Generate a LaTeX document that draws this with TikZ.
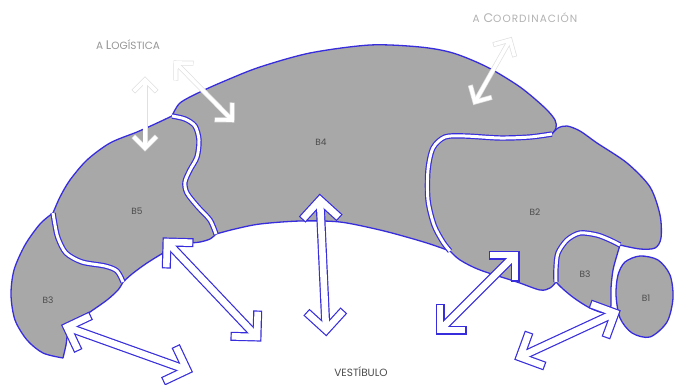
\documentclass[tikz,border=0pt]{standalone}
\usepackage{fontspec}
\setmainfont{Poppins}
\usetikzlibrary{calc}
\definecolor{regfill}{RGB}{168,168,168}
\definecolor{regline}{RGB}{55,45,220}
\definecolor{txt}{RGB}{75,75,75}
\definecolor{lighttxt}{RGB}{150,150,150}
\newcommand{\twohead}[5]{%
  \draw[#1,line cap=butt] (#3) -- (#4);
  \draw[#1,line cap=rect,line join=miter] ($(#3)!#5!45:(#4)$) -- (#3) -- ($(#3)!#5!-45:(#4)$);
  \draw[#1,line cap=rect,line join=miter] ($(#4)!#5!45:(#3)$) -- (#4) -- ($(#4)!#5!-45:(#3)$);
  \draw[#2,line cap=butt] (#3) -- (#4);
  \draw[#2,line cap=rect,line join=miter] ($(#3)!#5!45:(#4)$) -- (#3) -- ($(#3)!#5!-45:(#4)$);
  \draw[#2,line cap=rect,line join=miter] ($(#4)!#5!45:(#3)$) -- (#4) -- ($(#4)!#5!-45:(#3)$);
}
\begin{document}
\begin{tikzpicture}[x=1pt,y=-1pt,
  region/.style={fill=regfill, draw=regline, line width=1.3pt, line join=round},
  gap/.style={draw=regline, line width=1.2pt, double=white, double distance=3pt},
  lbl/.style={font=\fontsize{9}{10}\selectfont, text=txt, inner sep=0pt},
  lout/.style={draw=black!12, line width=5pt},
  lin/.style={draw=white, line width=3.6pt},
  bout/.style={draw=regline, line width=9pt},
  bin/.style={draw=white, line width=6.6pt}]
\useasboundingbox (0,0) rectangle (674,385);
\fill[white] (0,0) rectangle (674,385);

% B4
\path[region] plot[smooth] coordinates {(172,116) (180,103) (200,92) (227,80) (260,67) (310,53) (370,45) (420,47) (453,53) (487,67) (520,87) (545,108) (555,120) (556,128) (552,134)}
 -- plot[smooth] coordinates {(552,134) (530,137) (500,138) (465,136) (445,137) (433,148) (428,170) (428,200) (434,225) (443,242) (450,251)}
 -- plot[smooth] coordinates {(450,251) (430,244) (410,238) (380,230) (340,222) (300,221) (260,224) (235,229) (216,234)}
 -- plot[smooth] coordinates {(216,234) (210,220) (198,207) (187,193) (185,182) (190,170) (197,157) (199,140) (195,126) (185,119) (172,116)}
 -- cycle;
% B5
\path[region] plot[smooth] coordinates {(172,116) (155,124) (137,132) (110,143) (87,160) (70,180) (60,197) (53,213)}
 -- plot[smooth] coordinates {(53,213) (55,225) (58,238) (66,253) (82,262) (105,266) (117,271) (123,282)}
 -- plot[smooth] coordinates {(123,282) (132,274) (147,263) (167,251) (185,244) (200,242) (210,239) (216,234)}
 -- plot[smooth] coordinates {(216,234) (210,220) (198,207) (187,193) (185,182) (190,170) (197,157) (199,140) (195,126) (185,119) (172,116)}
 -- cycle;
% B3 left
\path[region] plot[smooth] coordinates {(53,213) (40,224) (25,245) (14,270) (11,295) (15,320) (27,340) (43,353) (63,358)}
 -- plot[smooth] coordinates {(63,358) (66,345) (68,333) (75,322) (90,312) (107,300) (118,290) (123,282)}
 -- plot[smooth] coordinates {(123,282) (117,271) (105,266) (82,262) (66,253) (58,238) (55,225) (53,213)}
 -- cycle;
% B2
\path[region] plot[smooth] coordinates {(552,134) (558,128) (567,126) (580,131) (597,143) (627,163) (650,187) (660,215) (661,238) (655,248) (640,249) (620,245)}
 -- plot[smooth] coordinates {(620,245) (610,240) (597,235) (580,233) (567,240) (558,253) (556,268) (556,282)}
 -- plot[smooth] coordinates {(556,282) (550,288) (540,290) (517,282) (480,270) (460,260) (450,251)}
 -- plot[smooth] coordinates {(450,251) (443,242) (434,225) (428,200) (428,170) (433,148) (445,137) (465,136) (500,138) (530,137) (552,134)}
 -- cycle;
% B3 right
\path[region] plot[smooth] coordinates {(556,282) (556,268) (558,253) (567,240) (580,233) (597,235) (610,240) (620,245)}
 -- plot[smooth] coordinates {(620,245) (617,255) (613,270) (611,288) (611,305) (609,313)}
 -- plot[smooth] coordinates {(609,313) (600,312) (588,307) (574,298) (563,289) (556,282)}
 -- cycle;
% B1
\path[region] plot[smooth cycle] coordinates {(625,262) (640,256) (658,260) (670,275) (673,298) (667,322) (650,337) (632,333) (620,318) (616,295) (618,275)};

% gaps
\draw[gap] plot[smooth] coordinates {(216,234) (210,220) (198,207) (187,193) (185,182) (190,170) (197,157) (199,140) (195,126) (185,119) (172,116)};
\draw[gap] plot[smooth] coordinates {(53,213) (55,225) (58,238) (66,253) (82,262) (105,266) (117,271) (123,282)};
\draw[gap] plot[smooth] coordinates {(552,134) (530,137) (500,138) (465,136) (445,137) (433,148) (428,170) (428,200) (434,225) (443,242) (450,251)};
\draw[gap] plot[smooth] coordinates {(620,245) (610,240) (597,235) (580,233) (567,240) (558,253) (556,268) (556,282)};

% labels
\node[lbl] (b4) at (321,142) {B4};
\node[lbl] (b5) at (137,211) {B5};
\node[lbl] (b3l) at (48,300) {B3};
\node[lbl] (b2) at (535,212) {B2};
\node[lbl] (b3r) at (585,274) {B3};
\node[lbl] (b1) at (646,298) {B1};
\node[inner sep=0pt, text=txt, font=\fontsize{10.5}{11}\selectfont] (vest) at (361,372) {VESTÍBULO};
\node[inner sep=0pt, text=lighttxt] (log) at (128,45) {{\fontsize{10.5}{11}\selectfont A }{\fontsize{12.5}{13}\selectfont L}{\fontsize{10.5}{11}\selectfont OGÍSTICA}};
\node[inner sep=0pt, text=black!30] (coord) at (525,18) {\addfontfeature{LetterSpace=10}{\fontsize{10.5}{11}\selectfont A }{\fontsize{12.5}{13}\selectfont C}{\fontsize{10.5}{11}\selectfont OORDINACIÓN}};

% arrow end points
\coordinate (l1a) at (145,80);  \coordinate (l1b) at (145,148);
\coordinate (l2a) at (176,63);  \coordinate (l2b) at (232,120);
\coordinate (l3a) at (510,40);  \coordinate (l3b) at (475,102);
\coordinate (v1a) at (320,200); \coordinate (v1b) at (326,330);
\coordinate (v2a) at (167,242); \coordinate (v2b) at (257,337);
\coordinate (v3a) at (67,327);  \coordinate (v3b) at (187,370);
\coordinate (v4a) at (515,255); \coordinate (v4b) at (440,330);
\coordinate (v5a) at (615,313); \coordinate (v5b) at (520,357);

\twohead{lout}{lin}{l1a}{l1b}{14pt}
\twohead{lout}{lin}{l2a}{l2b}{15pt}
\twohead{lout}{lin}{l3a}{l3b}{15pt}
\twohead{bout}{bin}{v1a}{v1b}{22pt}
\twohead{bout}{bin}{v2a}{v2b}{22pt}
\twohead{bout}{bin}{v3a}{v3b}{22pt}
\twohead{bout}{bin}{v4a}{v4b}{22pt}
\twohead{bout}{bin}{v5a}{v5b}{22pt}
\end{tikzpicture}
\end{document}
